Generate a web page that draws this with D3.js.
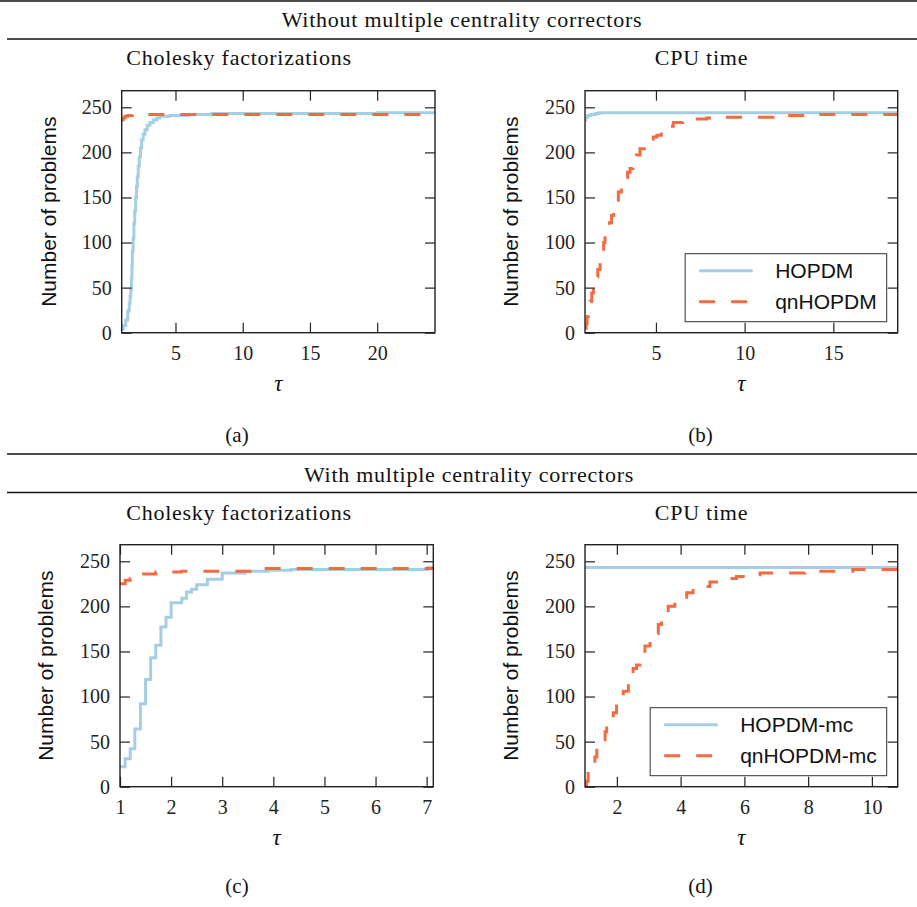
<!DOCTYPE html>
<html>
<head>
<meta charset="utf-8">
<script src="https://cdn.jsdelivr.net/npm/d3@7"></script>
<style>
  body { margin: 0; background: #fff; }
  svg { display: block; }
  .tick text { font-family: "Liberation Serif", serif; font-size: 20px; fill: #222; }
</style>
</head>
<body>
<svg id="fig" width="917" height="907"></svg>
<script>
// tick values
const yTicks = [0, 50, 100, 150, 200, 250];
const xTicksA = [5, 10, 15, 20];
const xTicksB = [5, 10, 15];
const xTicksC = [1, 2, 3, 4, 5, 6, 7];
const xTicksD = [2, 4, 6, 8, 10];

// performance profiles, [tau, number of problems]
const hopdmChol = [[1.0, 4], [1.12, 8], [1.3, 14], [1.45, 24], [1.56, 32], [1.62, 40], [1.67, 47], [1.72, 60],
  [1.76, 75], [1.79, 91], [1.85, 105], [1.91, 121], [1.97, 135], [2.04, 150], [2.1, 162], [2.16, 173],
  [2.23, 185], [2.31, 195], [2.4, 205], [2.48, 214], [2.6, 220], [2.73, 225], [2.9, 230], [3.1, 233],
  [3.35, 236], [3.6, 238], [3.84, 240], [4.6, 241], [6.0, 242], [7.7, 243], [20.0, 244]];
const qnHopdmChol = [[1.0, 236], [1.1, 238], [1.25, 240], [1.45, 241], [1.8, 242]];

const hopdmCpu = [[1.0, 236], [1.05, 239], [1.15, 241], [1.3, 242], [1.6, 243], [1.8, 244]];
const qnHopdmCpu = [[1.0, 5], [1.06, 10], [1.12, 18], [1.19, 26], [1.28, 35], [1.38, 44], [1.47, 54], [1.6, 62],
  [1.72, 70], [1.85, 78], [1.95, 90], [2.05, 100], [2.13, 107], [2.25, 115], [2.38, 122], [2.5, 130],
  [2.62, 138], [2.75, 147], [2.88, 156], [3.05, 163], [3.25, 172], [3.4, 178], [3.54, 182], [3.7, 190],
  [3.9, 197], [4.1, 204], [4.35, 209], [4.6, 213], [4.85, 217], [5.05, 219], [5.3, 224], [5.6, 229],
  [5.98, 233], [6.5, 236], [7.2, 237], [7.86, 238], [8.5, 239], [11.6, 241], [14.0, 242]];

const hopdmMcChol = [[1.0, 22], [1.1, 31], [1.2, 42], [1.29, 64], [1.4, 92], [1.5, 119], [1.6, 143], [1.7, 157],
  [1.8, 177], [1.9, 188], [2.0, 204], [2.21, 209], [2.3, 216], [2.4, 219], [2.5, 224], [2.71, 230],
  [3.0, 237], [3.45, 239], [3.9, 240], [4.35, 241], [7.03, 243]];
const qnHopdmMcChol = [[1.0, 225], [1.1, 229], [1.2, 231], [1.46, 236], [1.7, 238], [2.2, 239], [3.6, 242]];

const hopdmMcCpu = [[1.0, 243]];
const qnHopdmMcCpu = [[1.0, 2], [1.05, 6], [1.1, 17], [1.2, 25], [1.31, 33], [1.37, 43], [1.5, 52], [1.63, 61],
  [1.68, 68], [1.8, 75], [1.89, 82], [1.99, 93], [2.1, 100], [2.2, 106], [2.36, 115], [2.51, 131],
  [2.62, 135], [2.72, 139], [2.88, 156], [3.04, 163], [3.18, 170], [3.3, 180], [3.4, 185], [3.5, 193],
  [3.61, 200], [3.82, 206], [4.0, 210], [4.19, 215], [4.39, 220], [4.6, 222], [4.92, 227], [5.2, 229],
  [5.5, 231], [5.75, 233], [6.1, 235], [6.49, 237], [7.9, 239], [9.4, 241]];

const blue = "#a5cee4";
const orange = "#f26b43";
const serif = "'Liberation Serif', serif";
const sans = "'Liberation Sans', Arial, sans-serif";

const svg = d3.select("#fig");

// horizontal rules and group headings
[1, 39, 454, 492.5].forEach((yy, i) => {
  svg.append("line")
    .attr("x1", i === 0 ? 0 : 7).attr("x2", 917)
    .attr("y1", yy).attr("y2", yy)
    .attr("stroke", "#111").attr("stroke-width", 1.3);
});

svg.append("text").attr("x", 462).attr("y", 27)
  .attr("text-anchor", "middle").style("font-family", serif).style("font-size", "22px")
  .style("letter-spacing", "0.75px").attr("fill", "#111")
  .text("Without multiple centrality correctors");
svg.append("text").attr("x", 469).attr("y", 482)
  .attr("text-anchor", "middle").style("font-family", serif).style("font-size", "22px")
  .style("letter-spacing", "0.75px").attr("fill", "#111")
  .text("With multiple centrality correctors");

const panels = [
  { left: 121.7, right: 435, top: 90.7, bottom: 332.7, dom: [1, 24.3], ticks: xTicksA,
    solid: hopdmChol, dashed: qnHopdmChol, legend: null, ylabX: 49,
    title: "Cholesky factorizations", titleX: 239, titleY: 65, cap: "(a)", capX: 237, capY: 442 },
  { left: 585, right: 897.7, top: 90.7, bottom: 332.7, dom: [1, 18.63], ticks: xTicksB,
    solid: hopdmCpu, dashed: qnHopdmCpu, legend: ["HOPDM", "qnHOPDM"], ylabX: 510.5,
    title: "CPU time", titleX: 701.5, titleY: 65, cap: "(b)", capX: 700.5, capY: 442 },
  { left: 120, right: 433.3, top: 544.7, bottom: 786.7, dom: [1, 7.13], ticks: xTicksC,
    solid: hopdmMcChol, dashed: qnHopdmMcChol, legend: null, ylabX: 46,
    title: "Cholesky factorizations", titleX: 239, titleY: 520, cap: "(c)", capX: 237, capY: 893 },
  { left: 585, right: 897.7, top: 544.7, bottom: 786.7, dom: [1, 10.81], ticks: xTicksD,
    solid: hopdmMcCpu, dashed: qnHopdmMcCpu, legend: ["HOPDM-mc", "qnHOPDM-mc"], ylabX: 511,
    title: "CPU time", titleX: 701.5, titleY: 520, cap: "(d)", capX: 700.5, capY: 893 }
];

panels.forEach((p, idx) => {
  const x = d3.scaleLinear().domain(p.dom).range([p.left, p.right]);
  const y = d3.scaleLinear().domain([0, 268.4]).range([p.bottom, p.top]);
  const g = svg.append("g");

  // titles, captions, labels
  g.append("text").attr("x", p.titleX).attr("y", p.titleY)
    .attr("text-anchor", "middle").style("font-family", serif).style("font-size", "22px")
    .style("letter-spacing", "0.75px").attr("fill", "#111").text(p.title);
  g.append("text").attr("x", p.capX).attr("y", p.capY)
    .attr("text-anchor", "middle").style("font-family", serif).style("font-size", "21px")
    .attr("fill", "#111").text(p.cap);
  g.append("text").attr("x", (p.left + p.right) / 2).attr("y", p.bottom + 58.5)
    .attr("text-anchor", "middle").style("font-family", serif).style("font-size", "23px")
    .style("font-style", "italic").attr("fill", "#111").text("τ");
  g.append("text")
    .attr("transform", `translate(${p.ylabX},${(p.top + p.bottom) / 2}) rotate(-90)`)
    .attr("text-anchor", "middle").attr("dy", "0.35em")
    .style("font-family", sans).style("font-size", "21px").attr("fill", "#111")
    .text("Number of problems");

  // clipping for the curves
  const clipId = "clip" + idx;
  svg.append("clipPath").attr("id", clipId).append("rect")
    .attr("x", p.left).attr("y", p.top)
    .attr("width", p.right - p.left).attr("height", p.bottom - p.top);

  const line = d3.line().x(d => x(d[0])).y(d => y(d[1])).curve(d3.curveStepAfter);
  const extend = s => s.concat([[p.dom[1], s[s.length - 1][1]]]);

  g.append("path").datum(extend(p.solid))
    .attr("clip-path", `url(#${clipId})`)
    .attr("d", line).attr("fill", "none")
    .attr("stroke", blue).attr("stroke-width", 3);
  g.append("path").datum(extend(p.dashed))
    .attr("clip-path", `url(#${clipId})`)
    .attr("d", line).attr("fill", "none")
    .attr("stroke", orange).attr("stroke-width", 3)
    .attr("stroke-dasharray", "16,16");

  // axes with inward ticks on all four sides
  const ax = [
    g.append("g").attr("transform", `translate(0,${p.bottom})`)
      .call(d3.axisBottom(x).tickValues(p.ticks).tickSize(-10).tickPadding(13).tickFormat(d3.format("d"))),
    g.append("g").attr("transform", `translate(0,${p.top})`)
      .call(d3.axisTop(x).tickValues(p.ticks).tickSize(-10).tickFormat("")),
    g.append("g").attr("transform", `translate(${p.left},0)`)
      .call(d3.axisLeft(y).tickValues(yTicks).tickSize(-10).tickPadding(10).tickFormat(d3.format("d"))),
    g.append("g").attr("transform", `translate(${p.right},0)`)
      .call(d3.axisRight(y).tickValues(yTicks).tickSize(-10).tickFormat(""))
  ];
  ax.forEach(a => {
    a.select(".domain").remove();
    a.selectAll(".tick line").attr("stroke", "#222").attr("stroke-width", 1.2);
  });

  g.append("rect").attr("x", p.left).attr("y", p.top)
    .attr("width", p.right - p.left).attr("height", p.bottom - p.top)
    .attr("fill", "none").attr("stroke", "#222").attr("stroke-width", 1.4);

  // legend
  if (p.legend) {
    const lg = g.append("g");
    const box = lg.append("rect").attr("fill", "#fff").attr("stroke", "#333").attr("stroke-width", 1);
    const rows = [[p.legend[0], blue, null], [p.legend[1], orange, "16,16"]];
    const texts = rows.map((r, i) => lg.append("text")
      .attr("x", 90).attr("y", 17 + i * 31).attr("dy", "0.35em")
      .style("font-family", sans).style("font-size", "21px").attr("fill", "#111").text(r[0]));
    rows.forEach((r, i) => {
      lg.append("line").attr("x1", 14).attr("x2", 67.5)
        .attr("y1", 17 + i * 31).attr("y2", 17 + i * 31)
        .attr("stroke", r[1]).attr("stroke-width", 3).attr("stroke-dasharray", r[2]);
    });
    const w = 90 + d3.max(texts, t => t.node().getComputedTextLength()) + 10;
    const h = 68;
    box.attr("width", w).attr("height", h);
    lg.attr("transform", `translate(${p.right - 11 - w},${p.bottom - 11 - h})`);
  }
});
</script>
</body>
</html>
